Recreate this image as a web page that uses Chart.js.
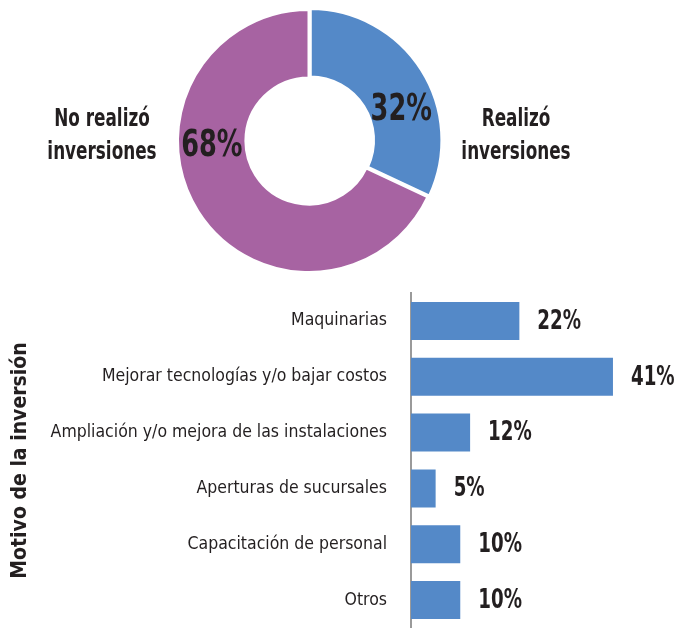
<!DOCTYPE html>
<html>
<head>
<meta charset="utf-8">
<script src="https://cdn.jsdelivr.net/npm/chart.js@4"></script>
<style>
	body { margin: 0; background: #fff; }
	canvas { position: absolute; left: 0; }
	#donut { top: 0; }
	#bars { top: 285px; }
</style>
</head>
<body>
<canvas id="donut" width="677" height="285"></canvas>
<canvas id="bars" width="677" height="343"></canvas>
<script>
const FONT = "'Liberation Sans Narrow', 'DejaVu Sans Condensed', 'Arial Narrow', sans-serif"
const INK = "#231f20"

const donutLabels = [["Realizó", "inversiones"], ["No realizó", "inversiones"]]
const donutValues = [32, 68]
const donutColors = ["rgb(84, 137, 200)", "rgb(167, 99, 162)"]

const motivos = [
	"Maquinarias",
	"Mejorar tecnologías y/o bajar costos",
	"Ampliación y/o mejora de las instalaciones",
	"Aperturas de sucursales",
	"Capacitación de personal",
	"Otros"
]
const motivoValues = [22, 41, 12, 5, 10, 10]
const axisTitle = "Motivo de la inversión"

// narrow text, squeezed sideways to look like the condensed face of the original
const narrowText = (ctx, text, x, y, squeeze) => {
	ctx.save()
	ctx.translate(x, y)
	ctx.scale(squeeze, 1)
	ctx.fillText(text, 0, 0)
	ctx.restore()
}

const donutText = {
	id: "donutText",
	afterDatasetsDraw: chart => {
		const ctx = chart.ctx
		const area = chart.chartArea
		const arcs = chart.getDatasetMeta(0).data
		ctx.save()
		ctx.fillStyle = INK
		ctx.textAlign = "center"
		arcs.forEach((arc, i) => {
			const p = arc.getProps(["x", "y", "startAngle", "endAngle", "innerRadius", "outerRadius"], true)
			const a = p.startAngle + 0.62 * (p.endAngle - p.startAngle)
			const r = (p.innerRadius + p.outerRadius) / 2
			ctx.font = "bold 38px " + FONT
			ctx.textBaseline = "middle"
			narrowText(ctx, donutValues[i] + "%", p.x + Math.cos(a) * r, p.y + Math.sin(a) * r, 0.75)

			// side captions
			const side = Math.cos(a) > 0 ? 1 : -1
			const cx = area.left + area.width / 2
			const cy = area.top + area.height / 2
			const x = cx + side * (area.width / 2 + 71)
			ctx.font = "bold 24px " + FONT
			ctx.textBaseline = "alphabetic"
			narrowText(ctx, donutLabels[i][0], x, cy - 15, 0.78)
			narrowText(ctx, donutLabels[i][1], x, cy + 18, 0.78)
		})
		ctx.restore()
	}
}

new Chart(document.getElementById("donut"), {
	type: "doughnut",
	data: {
		labels: donutLabels.map(l => l.join(" ")),
		datasets: [{
			data: donutValues,
			backgroundColor: donutColors,
			borderColor: "#fff",
			borderWidth: 3,
			offset: [6, 0],
			hoverOffset: 0
		}]
	},
	options: {
		responsive: false,
		animation: false,
		cutout: "48%",
		layout: { padding: { left: 173, right: 232, top: 5, bottom: 8 } },
		plugins: { legend: { display: false }, tooltip: { enabled: false } }
	},
	plugins: [donutText]
})

const barText = {
	id: "barText",
	afterDatasetsDraw: chart => {
		const ctx = chart.ctx
		ctx.save()
		ctx.fillStyle = INK
		ctx.font = "bold 26px " + FONT
		ctx.textAlign = "left"
		ctx.textBaseline = "middle"
		chart.getDatasetMeta(0).data.forEach((bar, i) => {
			narrowText(ctx, motivoValues[i] + "%", bar.x + 18, bar.y + 1, 0.78)
		})
		ctx.restore()
	}
}

new Chart(document.getElementById("bars"), {
	type: "bar",
	data: {
		labels: motivos,
		datasets: [{
			data: motivoValues,
			backgroundColor: donutColors[0],
			categoryPercentage: 1,
			barPercentage: 0.68
		}]
	},
	options: {
		indexAxis: "y",
		responsive: false,
		animation: false,
		layout: { padding: { top: 8, right: 0, bottom: 0, left: 0 } },
		scales: {
			x: { display: false, min: 0, max: 54 },
			y: {
				afterFit: s => {
					s.width = 411
					s.paddingTop = 0
					s.paddingBottom = 0
				},
				grid: { display: false, drawTicks: false },
				border: { color: "#9a9a9a", width: 2 },
				ticks: { color: INK, font: { family: FONT, size: 17.5 }, padding: 24 },
				title: {
					display: true,
					text: axisTitle,
					color: INK,
					font: { family: FONT, size: 21, weight: "bold" },
					padding: { top: 8, bottom: 0 }
				}
			}
		},
		plugins: { legend: { display: false }, tooltip: { enabled: false } }
	},
	plugins: [barText]
})
</script>
</body>
</html>
